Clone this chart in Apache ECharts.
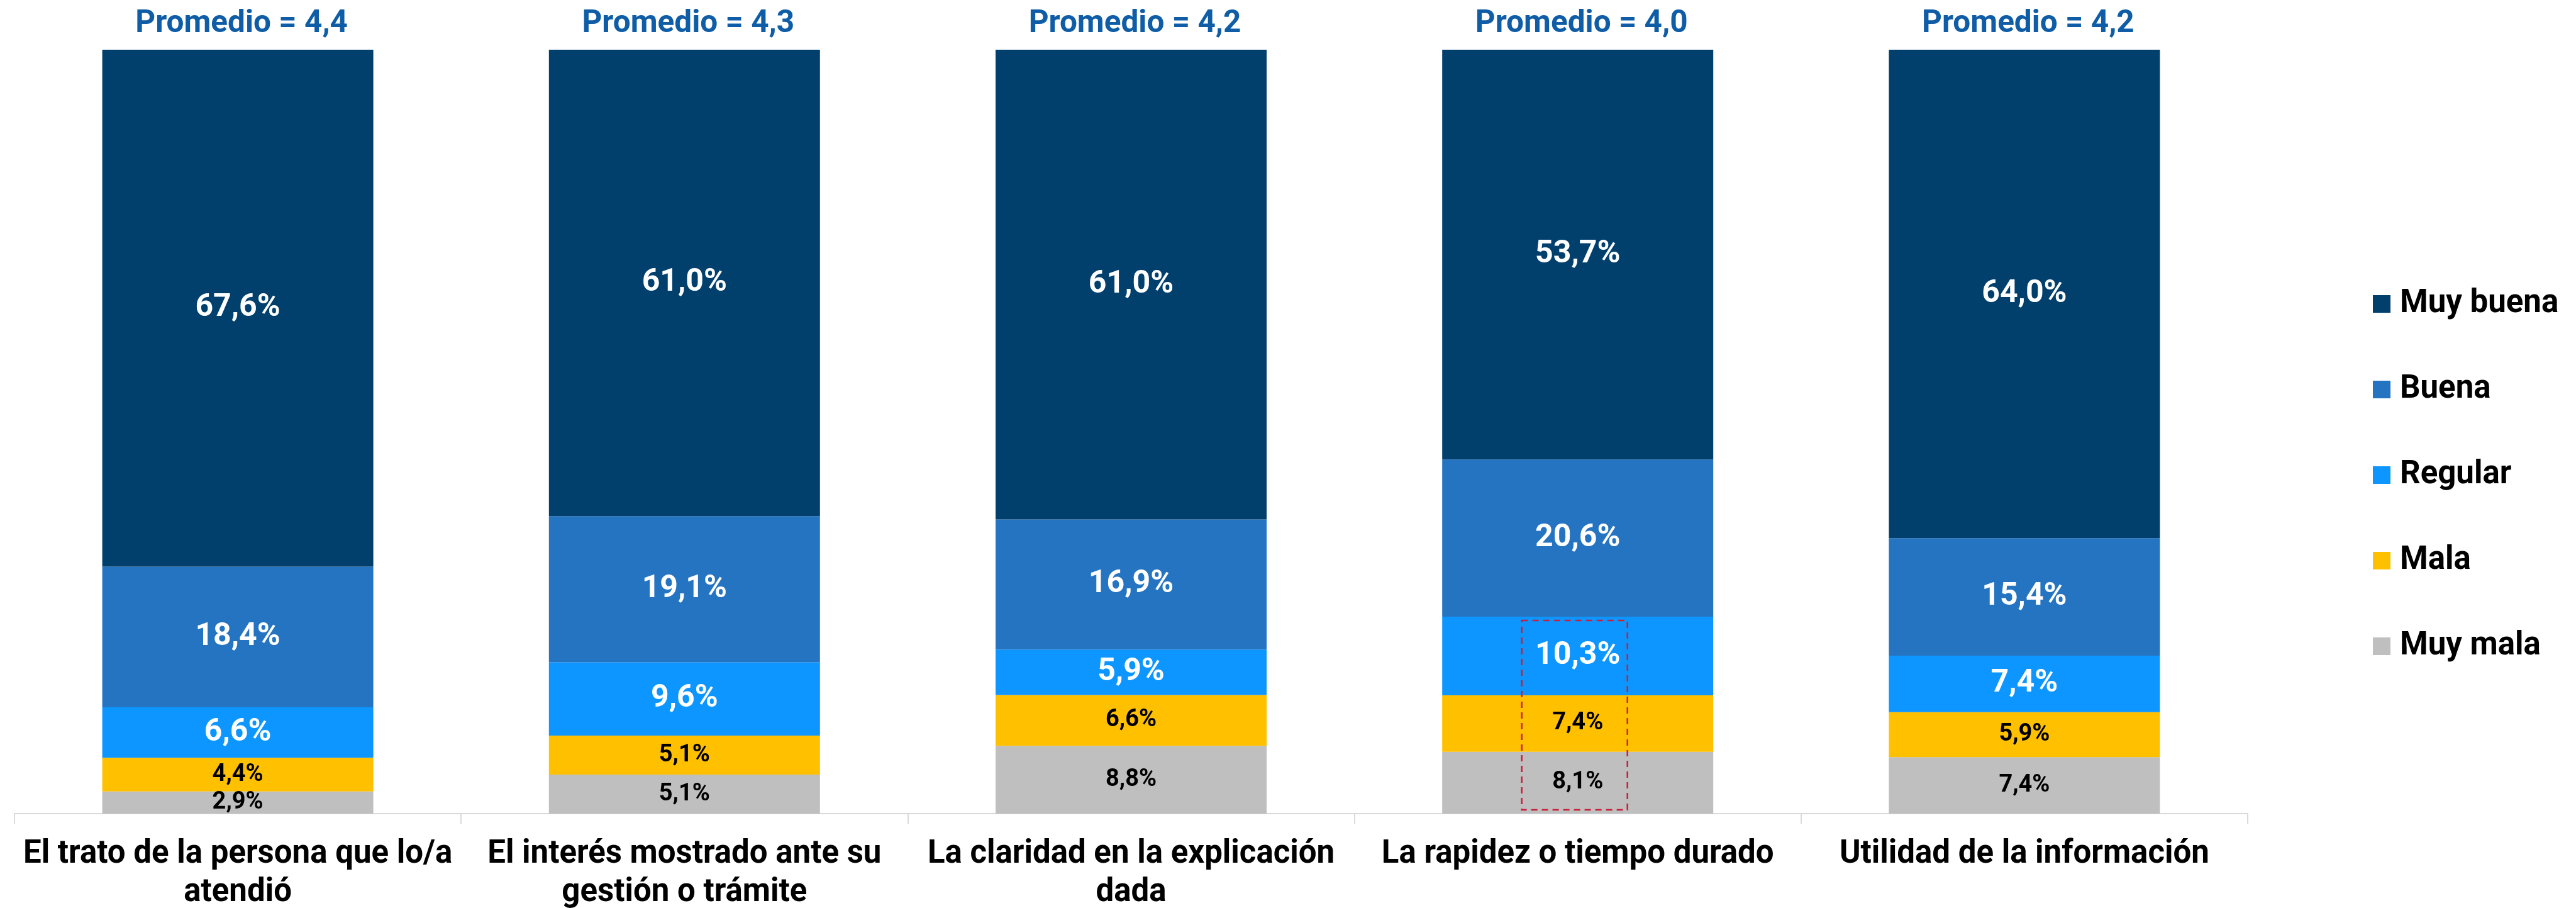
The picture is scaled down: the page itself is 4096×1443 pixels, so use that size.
<!DOCTYPE html>
<html>
<head>
<meta charset="utf-8">
<title>Evaluación de la atención</title>
<script src="https://cdn.jsdelivr.net/npm/echarts@6/dist/echarts.min.js"></script>
<style>
  html, body { margin: 0; padding: 0; background: #fff; }
  #chart { width: 4096px; height: 1443px; }
</style>
</head>
<body>
<div id="chart"></div>
<script>
// categorías del eje x
const categorias = [
  'El trato de la persona que lo/a\natendió',
  'El interés mostrado ante su\ngestión o trámite',
  'La claridad en la explicación\ndada',
  'La rapidez o tiempo durado',
  'Utilidad de la información'
];
// porcentajes por nivel (de abajo hacia arriba en la barra)
const muyMala = [2.9, 5.1, 8.8, 8.1, 7.4];
const mala = [4.4, 5.1, 6.6, 7.4, 5.9];
const regular = [6.6, 9.6, 5.9, 10.3, 7.4];
const buena = [18.4, 19.1, 16.9, 20.6, 15.4];
const muyBuena = [67.6, 61.0, 61.0, 53.7, 64.0];
const promedios = [4.4, 4.3, 4.2, 4.0, 4.2];

const colores = {
  'Muy buena': '#013F6D',
  'Buena': '#2574C2',
  'Regular': '#0D96FF',
  'Mala': '#FFC000',
  'Muy mala': '#BFBFBF'
};

const chart = echarts.init(document.getElementById('chart'));

// barras 100% apiladas, como en el original
const totales = categorias.map((c, i) =>
  muyMala[i] + mala[i] + regular[i] + buena[i] + muyBuena[i]);

const coma = v => v.toFixed(1).replace('.', ',');

const serie = (nombre, valores, colorTexto, tam) => ({
  name: nombre,
  type: 'bar',
  stack: 'total',
  barWidth: 431,
  itemStyle: { color: colores[nombre] },
  data: valores.map((v, i) => ({ value: v / totales[i] * 100, raw: v })),
  label: {
    show: true,
    position: 'inside',
    color: colorTexto,
    fontFamily: 'Roboto',
    fontWeight: 'bold',
    fontSize: tam,
    formatter: p => coma(p.data.raw) + '%'
  }
});

const option = {
  animation: false,
  grid: { left: 23, right: 522, top: 79, bottom: 150, containLabel: false, outerBoundsMode: 'none' },
  legend: {
    orient: 'vertical',
    left: 3768,
    top: 452,
    itemWidth: 28,
    itemHeight: 28,
    itemGap: 84,
    icon: 'rect',
    data: ['Muy buena', 'Buena', 'Regular', 'Mala', 'Muy mala'],
    textStyle: {
      fontFamily: 'Roboto',
      fontWeight: 'bold',
      fontSize: 51,
      lineHeight: 52,
      color: '#000',
      padding: [0, 0, 0, 10]
    }
  },
  xAxis: {
    type: 'category',
    data: categorias,
    axisLine: { lineStyle: { color: '#D9D9D9', width: 2 } },
    axisTick: { show: true, length: 16, lineStyle: { color: '#D9D9D9', width: 2 } },
    axisLabel: {
      interval: 0,
      margin: 35,
      color: '#000',
      fontFamily: 'Roboto',
      fontWeight: 'bold',
      fontSize: 51,
      lineHeight: 61
    }
  },
  yAxis: { type: 'value', min: 0, max: 100, show: false },
  series: [
    serie('Muy mala', muyMala, '#000', 38),
    serie('Mala', mala, '#000', 38),
    serie('Regular', regular, '#fff', 50),
    serie('Buena', buena, '#fff', 50),
    serie('Muy buena', muyBuena, '#fff', 50),
    {
      name: 'promedio',
      type: 'bar',
      stack: 'total',
      barWidth: 431,
      silent: true,
      itemStyle: { color: 'transparent' },
      data: promedios.map(() => 0),
      label: {
        show: true,
        position: 'top',
        distance: 15,
        offset: [6, 0],
        color: '#0F5DA6',
        fontFamily: 'Roboto',
        fontWeight: 'bold',
        fontSize: 49.5,
        lineHeight: 50,
        formatter: p => 'Promedio = ' + coma(promedios[p.dataIndex])
      }
    }
  ]
};

chart.setOption(option);

// recuadro rojo punteado sobre los tres niveles inferiores de "La rapidez"
const idx = 3;
const cx = chart.convertToPixel({ xAxisIndex: 0 }, categorias[idx]) - 5;
const tope = (muyMala[idx] + mala[idx] + regular[idx]) / totales[idx] * 100;
const yTop = chart.convertToPixel({ yAxisIndex: 0 }, tope) + 6;
const yBot = chart.convertToPixel({ yAxisIndex: 0 }, 0) - 6;
chart.setOption({
  graphic: [{
    type: 'rect',
    z: 100,
    shape: { x: cx - 84, y: yTop, width: 168, height: yBot - yTop },
    style: { fill: 'none', stroke: '#C8203A', lineWidth: 2.5, lineDash: [10, 7] }
  }]
});
</script>
</body>
</html>
